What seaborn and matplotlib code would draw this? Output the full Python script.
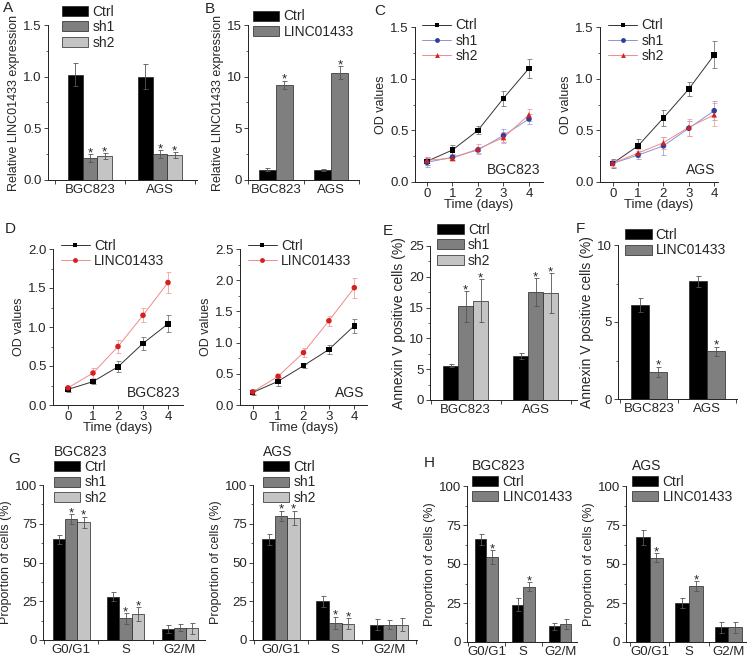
import numpy as np
import pandas as pd
import matplotlib
matplotlib.use("Agg")
import matplotlib.pyplot as plt
import seaborn as sns
from matplotlib.lines import Line2D
from matplotlib.ticker import AutoMinorLocator, FixedLocator, FormatStrFormatter

# -----------------------------------
# DATA
# -----------------------------------

cells = ["BGC823", "AGS"]
phases = ["G0/G1", "S", "G2/M"]
days = [0, 1, 2, 3, 4]

kd_groups = ["Ctrl", "sh1", "sh2"]
oe_groups = ["Ctrl", "LINC01433"]

# A - knockdown qPCR (rows = groups, cols = cells)
a_vals = [[1.02, 1.00], [0.21, 0.25], [0.23, 0.24]]
a_errs = [[0.11, 0.12], [0.04, 0.04], [0.03, 0.03]]

# B - overexpression qPCR
b_vals = [[1.0, 1.0], [9.2, 10.4]]
b_errs = [[0.15, 0.1], [0.4, 0.6]]

# C - CCK8 knockdown
c_bgc = [[0.20, 0.31, 0.50, 0.81, 1.10],
         [0.19, 0.24, 0.31, 0.45, 0.61],
         [0.21, 0.23, 0.32, 0.43, 0.65]]
c_bgc_err = [[0.04, 0.05, 0.04, 0.07, 0.09],
             [0.04, 0.03, 0.03, 0.06, 0.05],
             [0.03, 0.03, 0.05, 0.05, 0.06]]
c_ags = [[0.18, 0.35, 0.62, 0.90, 1.23],
         [0.18, 0.26, 0.35, 0.52, 0.69],
         [0.18, 0.28, 0.38, 0.53, 0.65]]
c_ags_err = [[0.04, 0.07, 0.08, 0.07, 0.13],
             [0.03, 0.04, 0.09, 0.07, 0.09],
             [0.03, 0.04, 0.06, 0.08, 0.11]]

# D - CCK8 overexpression
d_bgc = [[0.20, 0.30, 0.49, 0.79, 1.04],
         [0.22, 0.41, 0.75, 1.15, 1.57]]
d_bgc_err = [[0.03, 0.03, 0.07, 0.08, 0.11],
             [0.03, 0.06, 0.08, 0.09, 0.14]]
d_ags = [[0.20, 0.38, 0.63, 0.89, 1.27],
         [0.21, 0.46, 0.84, 1.35, 1.88]]
d_ags_err = [[0.04, 0.07, 0.03, 0.07, 0.11],
             [0.04, 0.03, 0.07, 0.08, 0.16]]

# E / F - apoptosis
e_vals = [[5.6, 7.2], [15.2, 17.5], [16.1, 17.4]]
e_errs = [[0.3, 0.5], [2.5, 2.3], [3.5, 3.2]]
f_vals = [[6.1, 7.65], [1.75, 3.1]]
f_errs = [[0.45, 0.35], [0.35, 0.3]]

# G / H - cell cycle
g_bgc = [[65, 28, 7], [78, 14, 8], [76, 16.5, 7.5]]
g_bgc_err = [[3, 3, 2.5], [3, 3.5, 2.5], [3.5, 4.5, 3.5]]
g_ags = [[65, 25, 10], [80, 11, 10], [79, 10.5, 10]]
g_ags_err = [[3.5, 3.5, 3.5], [3.5, 4, 3], [4.5, 3.5, 4]]
h_bgc = [[66, 24, 10], [54.5, 35.5, 11.5]]
h_bgc_err = [[3.5, 4, 2.5], [4.5, 3, 3]]
h_ags = [[67, 25, 9.5], [54, 36, 9.5]]
h_ags_err = [[4.5, 3.5, 3.5], [3, 3, 3.5]]

# which (group, category) get a star
a_stars = [(1, 0), (2, 0), (1, 1), (2, 1)]
b_stars = [(1, 0), (1, 1)]
g_stars = [(1, 0), (2, 0), (1, 1), (2, 1)]
h_stars = [(1, 0), (1, 1)]

kd_colors = ["#000000", "#7f7f7f", "#c4c4c4"]
oe_colors = ["#000000", "#7f7f7f"]

# -----------------------------------
# STYLE
# -----------------------------------

sns.set_style("ticks")
plt.rcParams["font.family"] = ["Liberation Sans", "DejaVu Sans"]
plt.rcParams["font.size"] = 9.5
plt.rcParams["axes.linewidth"] = 0.7
plt.rcParams["axes.edgecolor"] = "#222222"

W, H = 753, 659
fig = plt.figure(figsize=(7.53, 6.59), dpi=100)


def add_ax(l, t, r, b):
    return fig.add_axes([l / W, 1 - b / H, (r - l) / W, (b - t) / H])


def style_axis(ax, ylim, yticks, fmt, ylabel, ysize):
    sns.despine(ax=ax)
    ax.set_ylim(*ylim)
    ax.set_yticks(yticks)
    ax.yaxis.set_major_formatter(FormatStrFormatter(fmt))
    ax.yaxis.set_minor_locator(AutoMinorLocator(2))
    ax.tick_params(axis="both", which="major", direction="out", length=3,
                   width=0.6, pad=1.5, labelsize=9.5)
    ax.tick_params(axis="both", which="minor", direction="out", length=1.5,
                   width=0.5)
    ax.set_ylabel(ylabel, fontsize=ysize, labelpad=2)


def bar_panel(ax, cats, groups, vals, errs, stars, colors, width, xlim,
              ylim, yticks, fmt, ylabel, leg_xy, title=None, ysize=9.5):
    rows = []
    for gi, g in enumerate(groups):
        for ci, c in enumerate(cats):
            rows.append({"cat": c, "group": g, "val": vals[gi][ci]})
    df = pd.DataFrame(rows)
    sns.barplot(data=df, x="cat", y="val", hue="group", order=cats,
                hue_order=groups, palette=colors, saturation=1, width=width,
                edgecolor="#222222", linewidth=0.5, errorbar=None, ax=ax)
    bar_sets = list(ax.containers)
    for gi, cont in enumerate(bar_sets):
        for ci, bar in enumerate(cont.patches):
            x = bar.get_x() + bar.get_width() / 2
            y = bar.get_height()
            e = errs[gi][ci]
            ax.errorbar(x, y, yerr=e, fmt="none", ecolor="#555555",
                        elinewidth=0.6, capsize=1.8, capthick=0.6)
            if (gi, ci) in stars:
                ax.annotate("*", (x, y + e), xytext=(0, -1.5),
                            textcoords="offset points", ha="center",
                            va="baseline", fontsize=9.5, zorder=7)
    ax.set_xlim(*xlim)
    ax.set_xlabel("")
    style_axis(ax, ylim, yticks, fmt, ylabel, ysize)
    ax.tick_params(axis="x", which="major", length=0, pad=3)
    ax.xaxis.set_minor_locator(FixedLocator(np.arange(len(cats) + 1) - 0.5))
    ax.tick_params(axis="x", which="minor", length=3, width=0.6)
    sns.move_legend(ax, "upper left", bbox_to_anchor=leg_xy, frameon=False,
                    title=title, alignment="left", fontsize=10,
                    title_fontsize=10, handlelength=1.9, handleheight=0.72,
                    labelspacing=0.1, handletextpad=0.3, borderpad=0,
                    borderaxespad=0)


line_colors = {"Ctrl": "#333333", "sh1": "#8795d6", "sh2": "#f08a8a",
               "LINC01433": "#f08a8a"}
mark_colors = {"Ctrl": "#000000", "sh1": "#2c3f9c", "sh2": "#d62020",
               "LINC01433": "#d62020"}
err_colors = {"Ctrl": "#777777", "sh1": "#9aa6dc", "sh2": "#f2a0a0",
              "LINC01433": "#f2a0a0"}
mark_shapes = {"Ctrl": "s", "sh1": "o", "sh2": "^", "LINC01433": "o"}


def line_panel(ax, groups, vals, errs, xlim, ylim, yticks, ylabel, cell,
               leg_xy):
    rows = []
    for gi, g in enumerate(groups):
        for di, d in enumerate(days):
            rows.append({"day": d, "group": g, "val": vals[gi][di]})
    df = pd.DataFrame(rows)
    sns.lineplot(data=df, x="day", y="val", hue="group", hue_order=groups,
                 palette=line_colors, linewidth=0.7, legend=False, ax=ax)
    for gi, g in enumerate(groups):
        ax.errorbar(days, vals[gi], yerr=errs[gi], fmt="none",
                    ecolor=err_colors[g], elinewidth=0.6, capsize=1.8,
                    capthick=0.6)
    sns.scatterplot(data=df, x="day", y="val", hue="group", style="group",
                    hue_order=groups, palette=mark_colors,
                    markers=mark_shapes, s=16, linewidth=0, legend=False,
                    ax=ax, zorder=3)
    ax.set_xlim(*xlim)
    ax.set_xticks(days)
    style_axis(ax, ylim, yticks, "%.1f", ylabel, 9)
    ax.set_xlabel("Time (days)", fontsize=9.5, labelpad=-1)
    ax.text(0.98, 0.03, cell, transform=ax.transAxes, ha="right",
            va="bottom", fontsize=10)
    handles = [Line2D([], [], color=line_colors[g], lw=0.7,
                      marker=mark_shapes[g], markersize=3.5,
                      markerfacecolor=mark_colors[g], markeredgewidth=0)
               for g in groups]
    ax.legend(handles, groups, loc="upper left", bbox_to_anchor=leg_xy,
              frameon=False, fontsize=10, handlelength=2.1,
              labelspacing=0.1, handletextpad=0.3, borderpad=0,
              borderaxespad=0)


# -----------------------------------
# PANELS
# -----------------------------------

ax = add_ax(48, 25, 197, 180)
bar_panel(ax, cells, kd_groups, a_vals, a_errs, a_stars, kd_colors, 0.63,
          (-0.6, 1.53), (0, 1.5), [0, 0.5, 1.0, 1.5], "%.1f",
          "Relative LINC01433 expression", (0.094, 1.13), ysize=9)

ax = add_ax(248, 25, 359, 180)
bar_panel(ax, cells, oe_groups, b_vals, b_errs, b_stars, oe_colors, 0.62,
          (-0.5, 1.5), (0, 15), [0, 5, 10, 15], "%d",
          "Relative LINC01433 expression", (0.045, 1.1), ysize=9)

ax = add_ax(415, 27, 543, 182)
line_panel(ax, kd_groups, c_bgc, c_bgc_err, (-0.47, 4.55), (0, 1.5),
           [0, 0.5, 1.0, 1.5], "OD values", "BGC823", (0.055, 1.055))

ax = add_ax(600, 27, 718, 182)
line_panel(ax, kd_groups, c_ags, c_ags_err, (-0.5, 4.15), (0, 1.5),
           [0, 0.5, 1.0, 1.5], "OD values", "AGS", (0.07, 1.055))

ax = add_ax(53, 249, 183, 405)
line_panel(ax, oe_groups, d_bgc, d_bgc_err, (-0.6, 4.6), (0, 2.0),
           [0, 0.5, 1.0, 1.5, 2.0], "OD values", "BGC823", (0.06, 1.065))

ax = add_ax(240, 249, 367, 405)
line_panel(ax, oe_groups, d_ags, d_ags_err, (-0.5, 4.5), (0, 2.5),
           [0, 0.5, 1.0, 1.5, 2.0, 2.5], "OD values", "AGS", (0.06, 1.065))

ax = add_ax(430, 246, 577, 400)
bar_panel(ax, cells, kd_groups, e_vals, e_errs, a_stars, kd_colors, 0.64,
          (-0.51, 1.59), (0, 25), [0, 5, 10, 15, 20, 25], "%d",
          "Annexin V positive cells (%)", (0.05, 1.15), ysize=10)

ax = add_ax(618, 245, 737, 399)
bar_panel(ax, cells, oe_groups, f_vals, f_errs, b_stars, oe_colors, 0.62,
          (-0.53, 1.51), (0, 10), [0, 5, 10], "%d",
          "Annexin V positive cells (%)", (0.06, 1.11), ysize=10)

ax = add_ax(43, 485, 205, 640)
bar_panel(ax, phases, kd_groups, g_bgc, g_bgc_err, g_stars, kd_colors, 0.68,
          (-0.52, 2.46), (0, 100), [0, 25, 50, 75, 100], "%d",
          "Proportion of cells (%)", (0.068, 1.26), title="BGC823", ysize=9)

ax = add_ax(253, 485, 417, 640)
bar_panel(ax, phases, kd_groups, g_ags, g_ags_err, g_stars, kd_colors, 0.70,
          (-0.52, 2.51), (0, 100), [0, 25, 50, 75, 100], "%d",
          "Proportion of cells (%)", (0.06, 1.26), title="AGS", ysize=9)

ax = add_ax(467, 486, 577, 642)
bar_panel(ax, phases, oe_groups, h_bgc, h_bgc_err, h_stars, oe_colors, 0.62,
          (-0.53, 2.46), (0, 100), [0, 25, 50, 75, 100], "%d",
          "Proportion of cells (%)", (0.045, 1.17), title="BGC823", ysize=9)

ax = add_ax(626, 486, 746, 642)
bar_panel(ax, phases, oe_groups, h_ags, h_ags_err, h_stars, oe_colors, 0.70,
          (-0.6, 2.45), (0, 100), [0, 25, 50, 75, 100], "%d",
          "Proportion of cells (%)", (0.05, 1.17), title="AGS", ysize=9)

# panel letters
letters = [("A", 3, 1), ("B", 205, 2), ("C", 374, 4), ("D", 5, 222),
           ("E", 383, 224), ("F", 576, 222), ("G", 8, 452), ("H", 424, 456)]
for lab, x, y in letters:
    fig.text(x / W, 1 - y / H, lab, ha="left", va="top", fontsize=11)

fig.savefig("out.png", dpi=100)
